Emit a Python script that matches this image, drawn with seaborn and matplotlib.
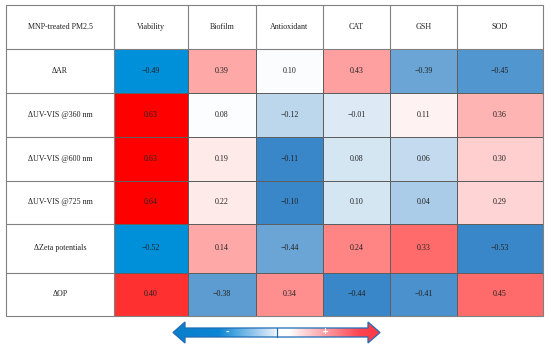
import numpy as np
import pandas as pd
import matplotlib
matplotlib.use("Agg")
import matplotlib.pyplot as plt
import seaborn as sns
from matplotlib.colors import LinearSegmentedColormap
from matplotlib.patches import Polygon, Rectangle

# ---------------- data ----------------
corner_label = "MNP-treated PM2.5"
columns = ["Viability", "Biofilm", "Antioxidant", "CAT", "GSH", "SOD"]
rows = ["\u0394AR", "\u0394UV-VIS @360 nm", "\u0394UV-VIS @600 nm",
        "\u0394UV-VIS @725 nm", "\u0394Zeta potentials", "\u0394OP"]

viability = [-0.49, 0.63, 0.63, 0.64, -0.52, 0.40]
biofilm = [0.39, 0.08, 0.19, 0.22, 0.14, -0.38]
antioxidant = [0.10, -0.12, -0.11, -0.10, -0.44, 0.34]
cat = [0.43, -0.01, 0.08, 0.10, 0.24, -0.44]
gsh = [-0.39, 0.11, 0.06, 0.04, 0.33, -0.41]
sod = [-0.45, 0.36, 0.30, 0.29, -0.53, 0.45]

# colour intensity of each cell as shaded in the original (-1 blue .. +1 red)
shade_viability = [-1.0, 1.0, 1.0, 1.0, -1.0, 0.81]
shade_biofilm = [0.34, -0.01, 0.08, 0.08, 0.34, -0.66]
shade_antioxidant = [-0.02, -0.27, -0.80, -0.80, -0.60, 0.44]
shade_cat = [0.37, -0.14, -0.17, -0.17, 0.48, -0.80]
shade_gsh = [-0.60, 0.05, -0.24, -0.34, 0.58, -0.73]
shade_sod = [-0.70, 0.29, 0.19, 0.17, -0.80, 0.58]

values = pd.DataFrame(
    np.array([viability, biofilm, antioxidant, cat, gsh, sod]).T,
    index=rows, columns=columns)
shades = pd.DataFrame(
    np.array([shade_viability, shade_biofilm, shade_antioxidant,
              shade_cat, shade_gsh, shade_sod]).T,
    index=rows, columns=columns)
annot = values.map(lambda v: f"{v:.2f}".replace("-", "\u2212"))

# ---------------- style ----------------
sns.set_theme(style="white")
plt.rcParams["font.family"] = ["Liberation Serif", "DejaVu Serif"]
FS = 5.8
TXT = "#222222"

W, H = 550, 346
fig = plt.figure(figsize=(W / 100, H / 100), dpi=100)
fig.patch.set_facecolor("white")

# table geometry (pixels)
xb = np.array([114, 188, 256, 323, 390, 457, 543], dtype=float)
yb = np.array([49, 93, 137, 181, 224, 273, 316], dtype=float)
left_x, top_y = 6, 5

ax = fig.add_axes([xb[0] / W, 1 - yb[-1] / H, (xb[-1] - xb[0]) / W,
                   (yb[-1] - yb[0]) / H])

cmap = LinearSegmentedColormap.from_list(
    "tab", [(0.0, "#0090DA"), (0.1, "#3A87C8"), (0.5, "#FFFFFF"),
            (1.0, "#FF0000")])

sns.heatmap(shades, ax=ax, cmap=cmap, vmin=-1, vmax=1, cbar=False,
            annot=annot, fmt="",
            annot_kws=dict(fontsize=FS, color=TXT, family="Liberation Serif"),
            linewidths=0.7, linecolor="#5e5e5e")


def make_scale(bounds):
    n = len(bounds) - 1
    step0 = bounds[1] - bounds[0]
    stepn = bounds[-1] - bounds[-2]
    d = np.concatenate([[-1000.0], np.arange(n + 1, dtype=float), [n + 1000.0]])
    p = np.concatenate([[bounds[0] - 1000 * step0], bounds,
                        [bounds[-1] + 1000 * stepn]])

    def fwd(x):
        return np.interp(x, d, p)

    def inv(y):
        return np.interp(y, p, d)
    return fwd, inv


ax.set_xscale("function", functions=make_scale(xb))
ax.set_yscale("function", functions=make_scale(yb))
ax.set_xlim(0, 6)
ax.set_ylim(6, 0)

ax.set_xticks(np.arange(6) + 0.5)
ax.set_xticklabels(columns)
ax.set_yticks(np.arange(6) + 0.5)
ax.set_yticklabels(rows)
ax.xaxis.tick_top()
ax.tick_params(axis="x", length=0, pad=((yb[0] - top_y) / 2) * 0.72,
               labelsize=FS, colors=TXT)
ax.tick_params(axis="y", length=0, pad=((xb[0] - left_x) / 2) * 0.72,
               labelsize=FS, colors=TXT)
for lbl in ax.get_xticklabels():
    lbl.set_va("center")
    lbl.set_rotation(0)
for lbl in ax.get_yticklabels():
    lbl.set_ha("center")
    lbl.set_va("center")
    lbl.set_rotation(0)
ax.set_xlabel("")
ax.set_ylabel("")

# header / first-column grid and corner label
ov = fig.add_axes([0, 0, 1, 1], zorder=5)
ov.set_xlim(0, W)
ov.set_ylim(H, 0)
ov.axis("off")
ov.patch.set_visible(False)
ov.text((left_x + xb[0]) / 2, (top_y + yb[0]) / 2, corner_label,
        ha="center", va="center", fontsize=FS, color=TXT)

gc = "#808080"
lw = 0.8
ov.add_patch(Rectangle((left_x, top_y), xb[-1] - left_x, yb[-1] - top_y,
                       fill=False, edgecolor=gc, lw=lw))
ov.plot([left_x, xb[-1]], [yb[0], yb[0]], color=gc, lw=lw)
for x in xb[:-1]:
    ov.plot([x, x], [top_y, yb[0]], color=gc, lw=lw)
ov.plot([xb[0], xb[0]], [top_y, yb[-1]], color=gc, lw=lw)
for y in yb[1:-1]:
    ov.plot([left_x, xb[0]], [y, y], color=gc, lw=lw)

# ---------------- double arrow legend ----------------
x0, x1, xm = 173, 380, 276.5
cy, sh, hh, hl = 332.5, 4.5, 10.5, 12
verts = [(x0, cy), (x0 + hl, cy - hh), (x0 + hl, cy - sh), (x1 - hl, cy - sh),
         (x1 - hl, cy - hh), (x1, cy), (x1 - hl, cy + hh), (x1 - hl, cy + sh),
         (x0 + hl, cy + sh), (x0 + hl, cy + hh)]
arrow = Polygon(verts, closed=True, facecolor="none", edgecolor="#1f6db5",
                lw=0.9, zorder=4)
ov.add_patch(arrow)
grad_cmap = LinearSegmentedColormap.from_list(
    "arrow", [(0.0, "#0a7fcb"), (0.22, "#0a86d4"), (0.49, "#e4eefa"),
              (0.5, "#ffffff"), (0.56, "#ffffff"), (0.9, "#ff4652"),
              (1.0, "#ff3844")])
grad = np.linspace(0, 1, 256).reshape(1, -1)
im = ov.imshow(grad, cmap=grad_cmap, extent=(x0, x1, cy + hh, cy - hh),
               aspect="auto", zorder=3)
im.set_clip_path(arrow)
ov.plot([xm, xm], [cy - sh, cy + sh], color="#1f6db5", lw=0.9, zorder=4)
ov.text(227, cy - 0.5, "-", color="white", fontsize=6, fontweight="bold",
        ha="center", va="center", zorder=5, family="DejaVu Sans")
ov.text(325, cy - 0.5, "+", color="white", fontsize=6, fontweight="bold",
        ha="center", va="center", zorder=5, family="DejaVu Sans")
ov.set_xlim(0, W)
ov.set_ylim(H, 0)

fig.savefig("out.png", dpi=100, facecolor="white")
